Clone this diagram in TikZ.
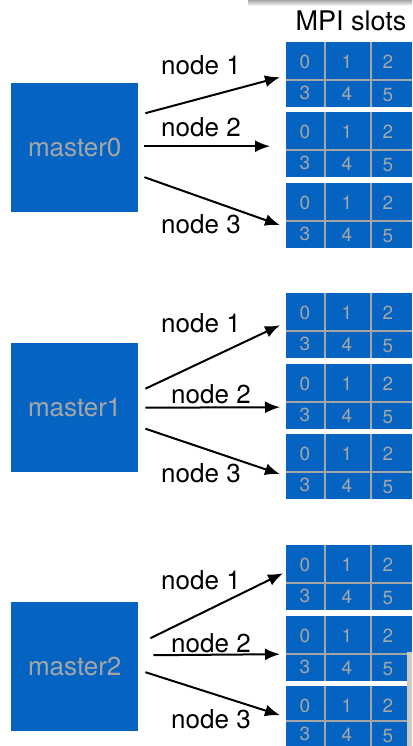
\documentclass[tikz,border=0pt]{standalone}
\usepackage{fontspec}
\setmainfont{TeX Gyre Heros}
\usetikzlibrary{arrows.meta}
\definecolor{slotblue}{HTML}{0563C1}
\definecolor{slotgray}{HTML}{A6A6A6}
\tikzset{
  master/.style={fill=slotblue, minimum width=127pt, minimum height=129pt,
    inner sep=0pt, anchor=north west, text=slotgray,
    font=\fontsize{26}{30}\selectfont},
  slotbox/.style={fill=slotblue, minimum width=126pt, minimum height=65pt,
    inner sep=0pt, anchor=north west},
  cellline/.style={draw=slotgray, line width=2pt},
  digit/.style={text=slotgray, inner sep=0pt, font=\fontsize{19}{22}\selectfont},
  link/.style={line width=2pt, -{Latex[length=15pt,width=12pt]}},
  linktext/.style={inner sep=0pt, anchor=base west, font=\fontsize{26}{30}\selectfont}
}
% one block of six MPI slots: #1 height of the upper row, #2 name, #3 top edge
\newcommand\slotgrid[3][38]{%
  \node[slotbox] (#2) at (286,#3) {};
  \draw[cellline] (286,#3+#1) -- (412,#3+#1);
  \draw[cellline] (325,#3) -- (325,#3+65);
  \draw[cellline] (371,#3) -- (371,#3+65);
  \node[digit] (#2-0) at (305,#3+20) {0};
  \node[digit] (#2-1) at (347,#3+20) {1};
  \node[digit] (#2-2) at (388,#3+20) {2};
  \node[digit] (#2-3) at (305,#3+#1+13) {3};
  \node[digit] (#2-4) at (347,#3+#1+14) {4};
  \node[digit] (#2-5) at (388,#3+#1+15) {5};
}
\begin{document}
\begin{tikzpicture}[x=1pt,y=-1pt]
\useasboundingbox (0,0) rectangle (412,746);
\clip (0,0) rectangle (412,746);

% shadow along the top edge
\shade[top color=gray!70, bottom color=white] (248,0) rectangle (412,6);

\node[inner sep=0pt, anchor=base, font=\fontsize{27}{32}\selectfont] (title) at (351,31) {MPI slots};

% masters
\node[master] (m0) at (11,83) {master0};
\node[master] (m1) at (11,343) {master1};
\node[master] (m2) at (11,602) {master2};

% slot blocks
\slotgrid{g01}{42}
\slotgrid{g02}{112}
\slotgrid{g03}{183}
\slotgrid{g11}{293}
\slotgrid{g12}{364}
\slotgrid{g13}{434}
\slotgrid{g21}{545}
\slotgrid{g22}{616}
\slotgrid[35]{g23}{686}

% strip of a neighbouring window at the lower right
\fill[left color=gray!45, right color={rgb,255:red,205;green,212;blue,190}] (407,652) rectangle (412,746);

% links from master0
\draw[link] ([shift={(7,-34.5)}]m0.east) -- ([shift={(-6,2.5)}]g01.west);
\draw[link] ([shift={(6,-1.5)}]m0.east) -- ([shift={(-16,1.5)}]g02.west);
\draw[link] ([shift={(6,29.5)}]m0.east) -- ([shift={(-6,9.5)}]g03.west);
\node[linktext] (l01) at (161,75) {node 1};
\node[linktext] (l02) at (161,137) {node 2};
\node[linktext] (l03) at (161,233) {node 3};

% links from master1
\draw[link] ([shift={(7,-19)}]m1.east) -- ([shift={(-6,-0.5)}]g11.west);
\draw[link] ([shift={(7,0)}]m1.east) -- ([shift={(-6,10.5)}]g12.west);
\draw[link] ([shift={(7,21)}]m1.east) -- ([shift={(-6,7.5)}]g13.west);
\node[linktext] (l11) at (161,332) {node 1};
\node[linktext] (l12) at (171,403) {node 2};
\node[linktext] (l13) at (161,482) {node 3};

% links from master2
\draw[link] ([shift={(12,-28.5)}]m2.east) -- ([shift={(-3,-4.5)}]g21.west);
\draw[link] ([shift={(15,-11.5)}]m2.east) -- ([shift={(-6,5.5)}]g22.west);
\draw[link] ([shift={(7,5.5)}]m2.east) -- ([shift={(-6,-3.5)}]g23.west);
\node[linktext] (l21) at (161,589) {node 1};
\node[linktext] (l22) at (171,652) {node 2};
\node[linktext] (l23) at (171,728) {node 3};
\end{tikzpicture}
\end{document}
